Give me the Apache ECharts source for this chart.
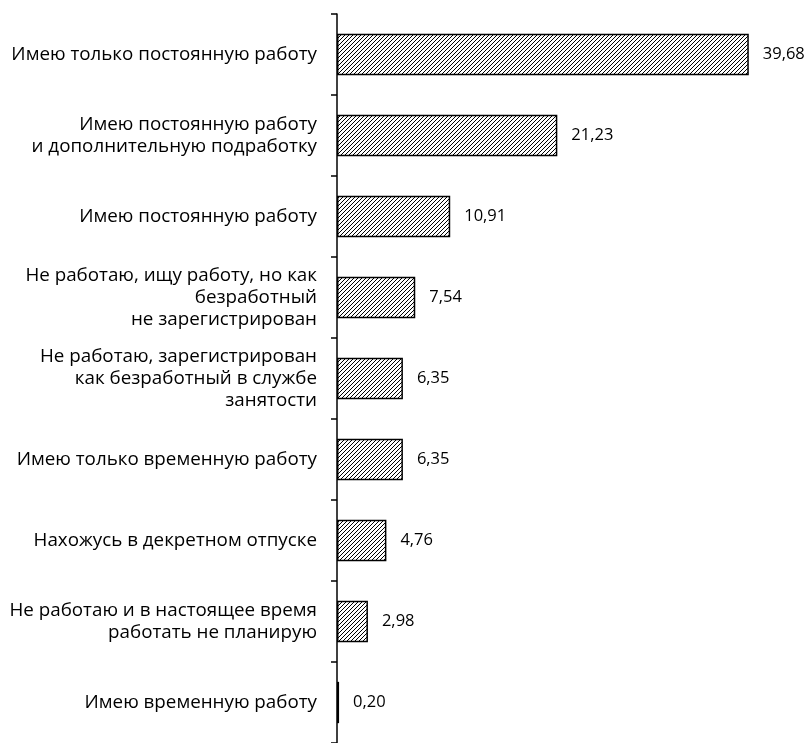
<!DOCTYPE html>
<html><head><meta charset="utf-8">
<script src="https://cdn.jsdelivr.net/npm/echarts@6/dist/echarts.min.js"></script>
<style>html,body{margin:0;padding:0;background:#fff}#c{width:808px;height:743px}</style>
</head><body><div id="c"></div>
<script>
const categories = [
  "Имею только постоянную работу",
  "Имею постоянную работу\nи дополнительную подработку",
  "Имею постоянную работу",
  "Не работаю, ищу работу, но как\nбезработный\nне зарегистрирован",
  "Не работаю, зарегистрирован\nкак безработный в службе\nзанятости",
  "Имею только временную работу",
  "Нахожусь в декретном отпуске",
  "Не работаю и в настоящее время\nработать не планирую",
  "Имею временную работу"
];
const values = [39.68, 21.23, 10.91, 7.54, 6.35, 6.35, 4.76, 2.98, 0.20];

function hatch(){
  const n = 4;
  const c = document.createElement('canvas');
  c.width = n; c.height = n;
  const g = c.getContext('2d');
  g.fillStyle = '#fff'; g.fillRect(0,0,n,n);
  g.strokeStyle = '#000'; g.lineWidth = 1;
  g.beginPath();
  g.moveTo(-1,n+1); g.lineTo(n+1,-1);
  g.moveTo(-1,1); g.lineTo(1,-1);
  g.moveTo(n-1,n+1); g.lineTo(n+1,n-1);
  g.stroke();
  return c;
}

const chart = echarts.init(document.getElementById('c'));
chart.setOption({
  animation: false,
  grid: {left: 337, width: 467, top: 14, height: 733, containLabel: false},
  xAxis: {type: 'value', min: 0, max: 45, show: false},
  yAxis: {
    type: 'category', data: categories, inverse: true,
    axisLine: {show: true, lineStyle: {color: '#000', width: 1.5}},
    axisTick: {show: true, length: 6, lineStyle: {color: '#000', width: 1.5}},
    axisLabel: {color: '#000', fontFamily: 'Open Sans', fontSize: 18.8, lineHeight: 22, margin: 20, align: 'right'}
  },
  series: [{
    type: 'bar', data: values, barWidth: '51%',
    itemStyle: {color: {image: hatch(), repeat: 'repeat'}, borderColor: '#000', borderWidth: 1.5},
    label: {show: true, position: 'right', distance: 14, color: '#000', fontFamily: 'Open Sans', fontSize: 16.5,
      formatter: p => p.value.toFixed(2).replace('.', ',')}
  }]
});
</script></body></html>
